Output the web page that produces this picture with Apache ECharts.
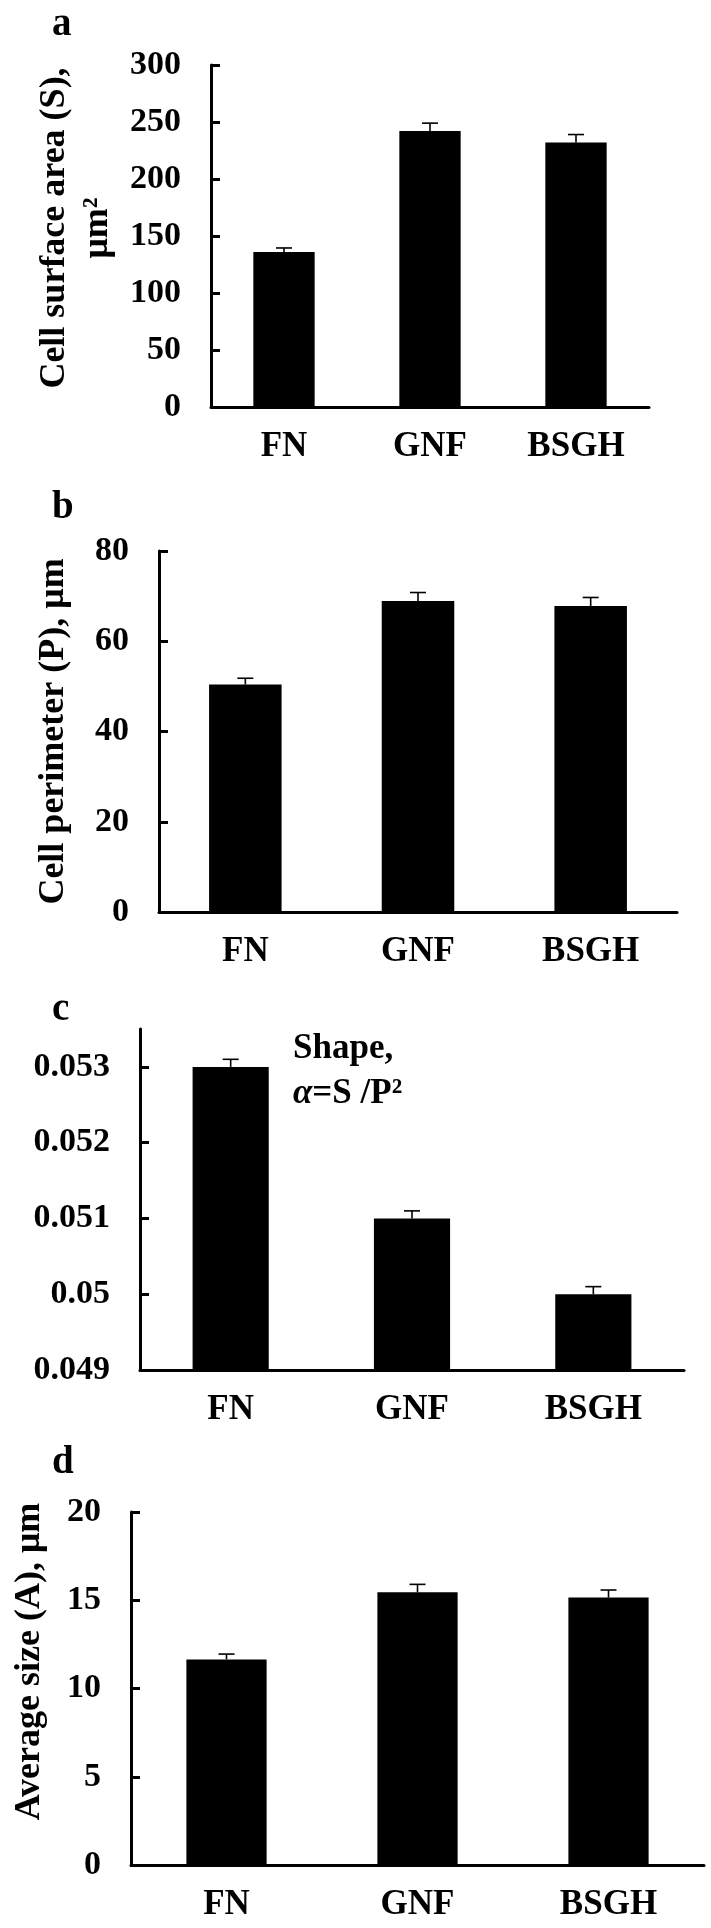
<!DOCTYPE html>
<html>
<head>
<meta charset="utf-8">
<script src="https://cdn.jsdelivr.net/npm/echarts/dist/echarts.min.js"></script>
<style>
html,body{margin:0;padding:0;background:#fff;}
#chart{width:711px;height:1928px;}
</style>
</head>
<body>
<div id="chart"></div>
<script>
// ---- data ----
const categories = ['FN', 'GNF', 'BSGH'];

const areaValues = [136, 242, 232];
const areaErrors = [3.5, 7, 7];
const areaTicks = [0, 50, 100, 150, 200, 250, 300];

const perimeterValues = [50.4, 68.9, 67.8];
const perimeterErrors = [1.4, 1.9, 1.9];
const perimeterTicks = [0, 20, 40, 60, 80];

const shapeValues = [0.0530, 0.0510, 0.0500];
const shapeErrors = [0.0001, 0.0001, 0.0001];
const shapeTicks = [0.049, 0.050, 0.051, 0.052, 0.053];
const shapeAxisMax = 0.0535;

const sizeValues = [11.65, 15.45, 15.15];
const sizeErrors = [0.3, 0.45, 0.43];
const sizeTicks = [0, 5, 10, 15, 20];

const panelLetters = ['a', 'b', 'c', 'd'];
const yNames = ['Cell surface area (S),\nμm²', 'Cell perimeter (P), μm', '', 'Average size (A), μm'];

// ---- chart ----
const FONT = '"Liberation Serif", "Times New Roman", serif';
const chart = echarts.init(document.getElementById('chart'), null, {renderer: 'canvas'});

const grids = [
  {left: 211, right: 62, top: 65, height: 342},
  {left: 159, right: 34, top: 551, height: 361},
  {left: 140, right: 27, top: 1029, height: 341},
  {left: 125, right: 7, top: 1512, height: 353}
];

const panels = [
  {values: areaValues, errors: areaErrors, ticks: areaTicks, max: 300, interval: 50, nameGap: 88, namePad: [0,0,0,16]},
  {values: perimeterValues, errors: perimeterErrors, ticks: perimeterTicks, max: 80, interval: 20, nameGap: 84, namePad: [0,0,0,0]},
  {values: shapeValues, errors: shapeErrors, ticks: shapeTicks, max: shapeAxisMax, interval: 0.001, nameGap: 80, namePad: [0,0,0,0]},
  {values: sizeValues, errors: sizeErrors, ticks: sizeTicks, max: 20, interval: 5, nameGap: 80, namePad: [0,0,0,54]}
];

function renderError(params, api) {
  const x = api.value(0), v = api.value(1), e = api.value(2);
  const base = api.coord([x, v]);
  const top = api.coord([x, v + e]);
  const hw = 8;
  const st = {stroke: '#000', lineWidth: 1.6};
  return {
    type: 'group',
    children: [
      {type: 'line', shape: {x1: base[0], y1: base[1], x2: top[0], y2: top[1]}, style: st},
      {type: 'line', shape: {x1: top[0] - hw, y1: top[1], x2: top[0] + hw, y2: top[1]}, style: st}
    ]
  };
}

const xAxes = [], yAxes = [], series = [];
panels.forEach((p, i) => {
  xAxes.push({
    type: 'category', gridIndex: i, data: categories,
    axisLine: {show: true, lineStyle: {color: '#000', width: 3}},
    axisTick: {show: false},
    axisLabel: {color: '#000', fontSize: 35, fontWeight: 'bold', fontFamily: FONT, margin: 22}
  });
  yAxes.push({
    type: 'value', gridIndex: i,
    min: p.ticks[0], max: p.max, interval: p.interval,
    splitLine: {show: false},
    axisLine: {show: true, lineStyle: {color: '#000', width: 3}},
    axisTick: {show: true, inside: true, length: 9, lineStyle: {color: '#000', width: 3}, customValues: p.ticks},
    axisLabel: {color: '#000', fontSize: 34, fontWeight: 'bold', fontFamily: FONT, margin: 30, customValues: p.ticks},
    name: yNames[i], nameLocation: 'middle', nameRotate: 90, nameGap: p.nameGap,
    nameTextStyle: {color: '#000', fontSize: 36, fontWeight: 'bold', fontFamily: FONT, lineHeight: 43, padding: p.namePad}
  });
  series.push({
    type: 'bar', xAxisIndex: i, yAxisIndex: i, data: p.values,
    barWidth: '42%', clip: true,
    itemStyle: {color: '#000'}, silent: true
  });
  series.push({
    type: 'custom', xAxisIndex: i, yAxisIndex: i,
    data: p.values.map((v, k) => [k, v, p.errors[k]]),
    renderItem: renderError, silent: true, z: 3
  });
});

const letterTops = [5, 488, 990, 1443];
const titles = panelLetters.map((t, i) => ({
  text: t, left: 52, top: letterTops[i], padding: 0,
  textStyle: {color: '#000', fontSize: 39, fontWeight: 'bold', fontFamily: FONT}
}));

chart.setOption({
  backgroundColor: '#fff',
  animation: false,
  title: titles,
  grid: grids,
  xAxis: xAxes,
  yAxis: yAxes,
  series: series,
  graphic: [{
    type: 'text', left: 293, top: 1031,
    style: {
      text: '{t|Shape,}\n{a|α}{t|=S /P²}',
      fill: '#000', align: 'center',
      rich: {
        t: {fontSize: 35, fontWeight: 'bold', fontFamily: FONT, lineHeight: 45, fill: '#000'},
        a: {fontSize: 35, fontWeight: 'bold', fontStyle: 'italic', fontFamily: FONT, lineHeight: 45, fill: '#000'}
      }
    }
  }]
});
</script>
</body>
</html>
